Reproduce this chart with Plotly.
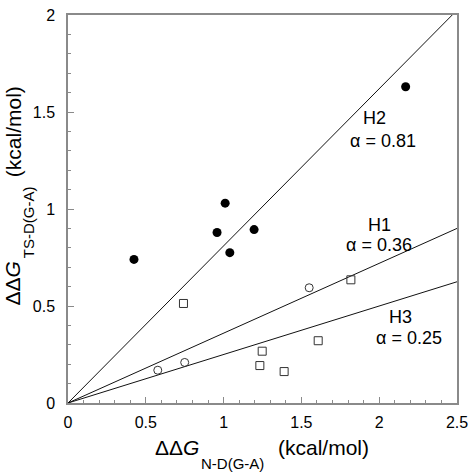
import plotly.graph_objects as go

# Data
filled_x = [0.424, 0.958, 1.01, 1.04, 1.196, 2.17]
filled_y = [0.74, 0.879, 1.03, 0.775, 0.894, 1.63]
open_circle_x = [0.577, 0.75, 1.55]
open_circle_y = [0.169, 0.209, 0.594]
square_x = [0.742, 1.248, 1.233, 1.389, 1.608, 1.818]
square_y = [0.513, 0.267, 0.193, 0.162, 0.321, 0.635]
line_names = ["H2", "H1", "H3"]
line_slopes = [0.81, 0.36, 0.25]
x_range = [0, 2.5]
y_range = [0, 2]

FONT = "Liberation Sans, Arial, Helvetica, sans-serif"

fig = go.Figure()

for name, s in zip(line_names, line_slopes):
    fig.add_trace(go.Scatter(x=[0, x_range[1]], y=[0, s * x_range[1]], mode="lines",
                             line=dict(color="#111111", width=1), name=name,
                             hoverinfo="skip"))

fig.add_trace(go.Scatter(x=filled_x, y=filled_y, mode="markers",
                         marker=dict(symbol="circle", size=9, color="black",
                                     line=dict(width=0))))
fig.add_trace(go.Scatter(x=open_circle_x, y=open_circle_y, mode="markers",
                         marker=dict(symbol="circle-open", size=8, color="#333333",
                                     line=dict(width=1))))
fig.add_trace(go.Scatter(x=square_x, y=square_y, mode="markers",
                         marker=dict(symbol="square-open", size=8, color="#333333",
                                     line=dict(width=1))))

axis_common = dict(
    showgrid=False, zeroline=False, showline=True, linecolor="#8a8a8a", linewidth=1.5,
    mirror=True, ticks="inside", ticklen=6, tickwidth=1, tickcolor="#8a8a8a",
    minor=dict(ticks="inside", ticklen=3, tickwidth=1, tickcolor="#8a8a8a", dtick=0.1),
    tickfont=dict(family=FONT, size=16, color="black"),
    dtick=0.5, fixedrange=True, automargin=False,
)

fig.update_layout(
    template="none",
    width=474, height=473, autosize=False,
    margin=dict(l=68, r=17, t=15, b=70, pad=0),
    paper_bgcolor="white", plot_bgcolor="white",
    showlegend=False,
    xaxis=dict(range=x_range, tickvals=[0, 0.5, 1, 1.5, 2, 2.5],
               ticktext=["0", "0.5", "1", "1.5", "2", "2.5"], ticklabelstandoff=4,
               **axis_common),
    yaxis=dict(range=y_range, tickvals=[0, 0.5, 1, 1.5, 2],
               ticktext=["0", "0.5", "1", "1.5", "2"], ticklabelstandoff=8,
               **axis_common),
)

ann_font = dict(family=FONT, size=18, color="black")
labels = [
    ("H2", 1.967, 1.468), ("α = 0.81", 2.025, 1.353),
    ("H1", 2.005, 0.916), ("α = 0.36", 2.0, 0.813),
    ("H3", 2.134, 0.441), ("α = 0.25", 2.19, 0.333),
]
for t, ax_, ay_ in labels:
    fig.add_annotation(text=t, x=ax_, y=ay_, xref="x", yref="y", showarrow=False,
                       xanchor="center", yanchor="middle", font=ann_font)

tfont = dict(family=FONT, size=21, color="black")
sfont = dict(family=FONT, size=15, color="black")
# x-axis title pieces
fig.add_annotation(text="ΔΔ<i>G</i>", x=0.280, y=-0.1148, xref="paper", yref="paper",
                   showarrow=False, xanchor="center", yanchor="middle", font=tfont)
fig.add_annotation(text="N-D(G-A)", x=0.424, y=-0.156, xref="paper", yref="paper",
                   showarrow=False, xanchor="center", yanchor="middle", font=sfont)
fig.add_annotation(text="(kcal/mol)", x=0.658, y=-0.1148, xref="paper", yref="paper",
                   showarrow=False, xanchor="center", yanchor="middle", font=tfont)
# y-axis title pieces
fig.add_annotation(text="ΔΔ<i>G</i>", x=-0.1414, y=0.308, xref="paper", yref="paper",
                   showarrow=False, xanchor="center", yanchor="middle", font=tfont,
                   textangle=-90)
fig.add_annotation(text="TS-D(G-A)", x=-0.1028, y=0.466, xref="paper", yref="paper",
                   showarrow=False, xanchor="center", yanchor="middle", font=sfont,
                   textangle=-90)
fig.add_annotation(text="(kcal/mol)", x=-0.1414, y=0.7006, xref="paper", yref="paper",
                   showarrow=False, xanchor="center", yanchor="middle", font=tfont,
                   textangle=-90)

fig.write_html("out.html", config={"displayModeBar": False, "responsive": False},
               post_script="document.body.style.margin='0';document.body.style.padding='0';")
